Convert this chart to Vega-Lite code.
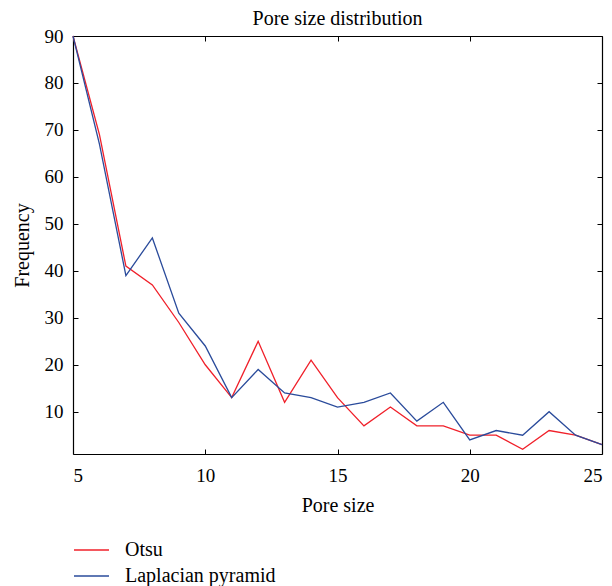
{
  "$schema": "https://vega.github.io/schema/vega-lite/v6.json",
  "autosize": {"type": "none"},
  "padding": {"left": 73, "top": 36, "right": 10, "bottom": 132},
  "width": 529,
  "height": 418,
  "background": "white",
  "config": {
    "font": "Liberation Serif",
    "view": {"stroke": null},
    "axis": {"labelFont": "Liberation Serif", "titleFont": "Liberation Serif", "labelColor": "black", "titleColor": "black", "domainColor": "black", "tickColor": "black", "labelFontSize": 19, "titleFontSize": 20, "titleFontWeight": "normal", "grid": false, "tickSize": -5, "domainWidth": 1.2},
    "legend": {"labelFont": "Liberation Serif", "labelFontSize": 20, "labelColor": "black", "padding": 0}
  },
  "title": {"text": "Pore size distribution", "font": "Liberation Serif", "fontSize": 20, "fontWeight": "normal", "color": "black", "offset": -2},
  "data": {"values": [
    {"size": 5, "method": "Otsu", "freq": 90},
    {"size": 6, "method": "Otsu", "freq": 69},
    {"size": 7, "method": "Otsu", "freq": 41},
    {"size": 8, "method": "Otsu", "freq": 37},
    {"size": 9, "method": "Otsu", "freq": 29},
    {"size": 10, "method": "Otsu", "freq": 20},
    {"size": 11, "method": "Otsu", "freq": 13},
    {"size": 12, "method": "Otsu", "freq": 25},
    {"size": 13, "method": "Otsu", "freq": 12},
    {"size": 14, "method": "Otsu", "freq": 21},
    {"size": 15, "method": "Otsu", "freq": 13},
    {"size": 16, "method": "Otsu", "freq": 7},
    {"size": 17, "method": "Otsu", "freq": 11},
    {"size": 18, "method": "Otsu", "freq": 7},
    {"size": 19, "method": "Otsu", "freq": 7},
    {"size": 20, "method": "Otsu", "freq": 5},
    {"size": 21, "method": "Otsu", "freq": 5},
    {"size": 22, "method": "Otsu", "freq": 2},
    {"size": 23, "method": "Otsu", "freq": 6},
    {"size": 24, "method": "Otsu", "freq": 5},
    {"size": 25, "method": "Otsu", "freq": 3},
    {"size": 5, "method": "Laplacian pyramid", "freq": 90},
    {"size": 6, "method": "Laplacian pyramid", "freq": 67},
    {"size": 7, "method": "Laplacian pyramid", "freq": 39},
    {"size": 8, "method": "Laplacian pyramid", "freq": 47},
    {"size": 9, "method": "Laplacian pyramid", "freq": 31},
    {"size": 10, "method": "Laplacian pyramid", "freq": 24},
    {"size": 11, "method": "Laplacian pyramid", "freq": 13},
    {"size": 12, "method": "Laplacian pyramid", "freq": 19},
    {"size": 13, "method": "Laplacian pyramid", "freq": 14},
    {"size": 14, "method": "Laplacian pyramid", "freq": 13},
    {"size": 15, "method": "Laplacian pyramid", "freq": 11},
    {"size": 16, "method": "Laplacian pyramid", "freq": 12},
    {"size": 17, "method": "Laplacian pyramid", "freq": 14},
    {"size": 18, "method": "Laplacian pyramid", "freq": 8},
    {"size": 19, "method": "Laplacian pyramid", "freq": 12},
    {"size": 20, "method": "Laplacian pyramid", "freq": 4},
    {"size": 21, "method": "Laplacian pyramid", "freq": 6},
    {"size": 22, "method": "Laplacian pyramid", "freq": 5},
    {"size": 23, "method": "Laplacian pyramid", "freq": 10},
    {"size": 24, "method": "Laplacian pyramid", "freq": 5},
    {"size": 25, "method": "Laplacian pyramid", "freq": 3}
  ]},
  "layer": [
    {
      "mark": {"type": "line", "strokeWidth": 1.3},
      "encoding": {
        "x": {"field": "size", "type": "quantitative", "scale": {"domain": [5, 25], "nice": false}, "axis": {"orient": "bottom", "title": "Pore size", "values": [5, 10, 15, 20, 25], "labelPadding": 17, "titlePadding": 10}},
        "y": {"field": "freq", "type": "quantitative", "scale": {"domain": [1, 90], "nice": false, "zero": false}, "axis": {"orient": "left", "title": "Frequency", "values": [10, 20, 30, 40, 50, 60, 70, 80, 90], "labelPadding": 15, "titlePadding": 12}},
        "color": {"field": "method", "type": "nominal", "sort": ["Otsu", "Laplacian pyramid"], "scale": {"domain": ["Otsu", "Laplacian pyramid"], "range": ["#f0202a", "#2a4b9b"]}, "legend": {"title": null, "orient": "none", "legendX": 7.5, "legendY": 503, "symbolType": "M-1.75,0H1.75", "symbolSize": 400, "symbolStrokeWidth": 1.3, "labelOffset": 22.5, "rowPadding": 5}}
      }
    },
    {
      "mark": {"type": "line", "opacity": 0},
      "encoding": {
        "x": {"field": "size", "type": "quantitative", "scale": {"domain": [5, 25], "nice": false}, "axis": {"orient": "top", "title": null, "labels": false, "values": [5, 10, 15, 20, 25]}},
        "y": {"field": "freq", "type": "quantitative", "scale": {"domain": [1, 90], "nice": false, "zero": false}, "axis": {"orient": "right", "title": null, "labels": false, "values": [10, 20, 30, 40, 50, 60, 70, 80, 90]}},
        "detail": {"field": "method"}
      }
    }
  ],
  "resolve": {"axis": {"x": "independent", "y": "independent"}}
}
